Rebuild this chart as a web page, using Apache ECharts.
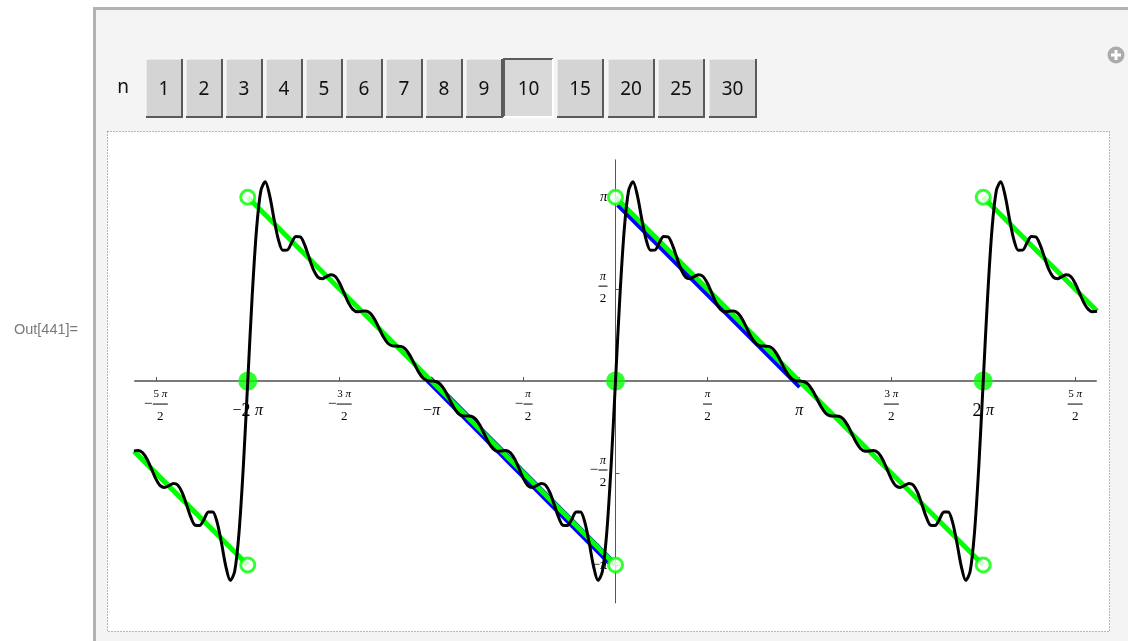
<!DOCTYPE html>
<html>
<head>
<meta charset="utf-8">
<script src="https://cdn.jsdelivr.net/npm/echarts@6/dist/echarts.min.js"></script>
<style>
html,body{margin:0;padding:0;background:#ffffff;}
#c{width:1128px;height:641px;}
</style>
</head>
<body>
<div id="c"></div>
<script>
// ---- Data ----
// Fourier partial sum, n = 10: [x, y]
const fourierCurve = [
[-8.2280,-1.193],[-8.1532,-1.185],[-8.0784,-1.225],[-8.0036,-1.336],[-7.9288,-1.502],[-7.8540,-1.671],[-7.7792,-1.786],[-7.7044,-1.818],[-7.6296,-1.786],[-7.5548,-1.749],
[-7.4800,-1.776],[-7.4052,-1.903],[-7.3304,-2.110],[-7.2556,-2.326],[-7.1808,-2.464],[-7.1060,-2.469],[-7.0312,-2.362],[-6.9564,-2.237],[-6.8816,-2.235],[-6.8068,-2.415],
[-6.7320,-2.767],[-6.6572,-3.169],[-6.5824,-3.405],[-6.5076,-3.255],[-6.4328,-2.592],[-6.3580,-1.442],[-6.2832,0],[-6.2084,1.442],[-6.1336,2.592],[-6.0588,3.255],
[-5.9840,3.405],[-5.9092,3.169],[-5.8344,2.767],[-5.7596,2.415],[-5.6848,2.235],[-5.6100,2.237],[-5.5352,2.362],[-5.4604,2.469],[-5.3856,2.464],[-5.3108,2.326],
[-5.2360,2.110],[-5.1612,1.903],[-5.0864,1.776],[-5.0116,1.749],[-4.9368,1.786],[-4.8620,1.818],[-4.7872,1.786],[-4.7124,1.671],[-4.6376,1.502],[-4.5628,1.336],
[-4.4880,1.225],[-4.4132,1.185],[-4.3384,1.193],[-4.2636,1.199],[-4.1888,1.157],[-4.1140,1.051],[-4.0392,0.900],[-3.9644,0.751],[-3.8896,0.646],[-3.8148,0.601],
[-3.7400,0.597],[-3.6652,0.592],[-3.5904,0.547],[-3.5156,0.443],[-3.4408,0.300],[-3.3660,0.157],[-3.2912,0.054],[-3.2164,0.007],[-3.1416,0],[-3.0668,-0.007],
[-2.9920,-0.054],[-2.9172,-0.157],[-2.8424,-0.300],[-2.7676,-0.443],[-2.6928,-0.547],[-2.6180,-0.592],[-2.5432,-0.597],[-2.4684,-0.601],[-2.3936,-0.646],[-2.3188,-0.751],
[-2.2440,-0.900],[-2.1692,-1.051],[-2.0944,-1.157],[-2.0196,-1.199],[-1.9448,-1.193],[-1.8700,-1.185],[-1.7952,-1.225],[-1.7204,-1.336],[-1.6456,-1.502],[-1.5708,-1.671],
[-1.4960,-1.786],[-1.4212,-1.818],[-1.3464,-1.786],[-1.2716,-1.749],[-1.1968,-1.776],[-1.1220,-1.903],[-1.0472,-2.110],[-0.9724,-2.326],[-0.8976,-2.464],[-0.8228,-2.469],
[-0.7480,-2.362],[-0.6732,-2.237],[-0.5984,-2.235],[-0.5236,-2.415],[-0.4488,-2.767],[-0.3740,-3.169],[-0.2992,-3.405],[-0.2244,-3.255],[-0.1496,-2.592],[-0.0748,-1.442],
[0,0],
[0.0748,1.442],[0.1496,2.592],[0.2244,3.255],[0.2992,3.405],[0.3740,3.169],[0.4488,2.767],[0.5236,2.415],[0.5984,2.235],[0.6732,2.237],[0.7480,2.362],
[0.8228,2.469],[0.8976,2.464],[0.9724,2.326],[1.0472,2.110],[1.1220,1.903],[1.1968,1.776],[1.2716,1.749],[1.3464,1.786],[1.4212,1.818],[1.4960,1.786],
[1.5708,1.671],[1.6456,1.502],[1.7204,1.336],[1.7952,1.225],[1.8700,1.185],[1.9448,1.193],[2.0196,1.199],[2.0944,1.157],[2.1692,1.051],[2.2440,0.900],
[2.3188,0.751],[2.3936,0.646],[2.4684,0.601],[2.5432,0.597],[2.6180,0.592],[2.6928,0.547],[2.7676,0.443],[2.8424,0.300],[2.9172,0.157],[2.9920,0.054],
[3.0668,0.007],[3.1416,0],[3.2164,-0.007],[3.2912,-0.054],[3.3660,-0.157],[3.4408,-0.300],[3.5156,-0.443],[3.5904,-0.547],[3.6652,-0.592],[3.7400,-0.597],
[3.8148,-0.601],[3.8896,-0.646],[3.9644,-0.751],[4.0392,-0.900],[4.1140,-1.051],[4.1888,-1.157],[4.2636,-1.199],[4.3384,-1.193],[4.4132,-1.185],[4.4880,-1.225],
[4.5628,-1.336],[4.6376,-1.502],[4.7124,-1.671],[4.7872,-1.786],[4.8620,-1.818],[4.9368,-1.786],[5.0116,-1.749],[5.0864,-1.776],[5.1612,-1.903],[5.2360,-2.110],
[5.3108,-2.326],[5.3856,-2.464],[5.4604,-2.469],[5.5352,-2.362],[5.6100,-2.237],[5.6848,-2.235],[5.7596,-2.415],[5.8344,-2.767],[5.9092,-3.169],[5.9840,-3.405],
[6.0588,-3.255],[6.1336,-2.592],[6.2084,-1.442],[6.2832,0],[6.3580,1.442],[6.4328,2.592],[6.5076,3.255],[6.5824,3.405],[6.6572,3.169],[6.7320,2.767],
[6.8068,2.415],[6.8816,2.235],[6.9564,2.237],[7.0312,2.362],[7.1060,2.469],[7.1808,2.464],[7.2556,2.326],[7.3304,2.110],[7.4052,1.903],[7.4800,1.776],
[7.5548,1.749],[7.6296,1.786],[7.7044,1.818],[7.7792,1.786],[7.8540,1.671],[7.9288,1.502],[8.0036,1.336],[8.0784,1.225],[8.1532,1.185],[8.2280,1.193]
];
// Sawtooth (green) segments
const sawSegments = [
  [[-8.228, -1.197], [-6.2832, -3.1416]],
  [[-6.2832, 3.1416], [0, -3.1416]],
  [[0, 3.1416], [6.2832, -3.1416]],
  [[6.2832, 3.1416], [8.228, 1.197]]
];
// Blue segments
const blueSegments = [
  [[-3.19, 0.03], [-0.09, -3.08]],
  [[0.06, 3.03], [3.17, -0.08]]
];
// Open end circles and filled jump-midpoint dots
const openEnds = [[-6.2832,-3.1416],[-6.2832,3.1416],[0,-3.1416],[0,3.1416],[6.2832,-3.1416],[6.2832,3.1416]];
const jumpDots = [[-6.2832,0],[0,0],[6.2832,0]];
// Ticks, in multiples of pi/2
const xTickSteps = [-5,-4,-3,-2,-1,1,2,3,4,5];
const xTickLabels = ['−5π/2','−2π','−3π/2','−π','−π/2','π/2','π','3π/2','2π','5π/2'];
const yTickSteps = [-2,-1,1,2];
const yTickLabels = ['−π','−π/2','π/2','π'];
// Control values
const nValues = ['1','2','3','4','5','6','7','8','9','10','15','20','25','30'];
const selectedN = '10';
const outLabel = 'Out[441]=';

// ---- Rendering ----
const HALF_PI = Math.PI / 2;
const xTickVals = xTickSteps.map(s => s * HALF_PI);
const yTickVals = yTickSteps.map(s => s * HALF_PI);
const SERIF = '"Liberation Serif", "Times New Roman", serif';

const X_MIN = -8.21, X_MAX = 8.21, Y_MIN = -3.79, Y_MAX = 3.78;
const GRID = {left: 135, top: 159.8, width: 961, height: 443.1};
// axes cross at the origin: shift each axis from its grid edge to the other axis' zero
const xAxisOffset = -((0 - Y_MIN) / (Y_MAX - Y_MIN)) * GRID.height;
const yAxisOffset = -((0 - X_MIN) / (X_MAX - X_MIN)) * GRID.width;

function buildLabel(lbl) {
  const neg = lbl.charAt(0) === '−';
  const body = neg ? lbl.slice(1) : lbl;
  const slash = body.indexOf('/');
  if (slash >= 0) {
    const num = body.slice(0, slash), den = body.slice(slash + 1);
    const coef = num.replace('π', '');
    const numTxt = (coef ? '{nd|' + coef + '\u00a0}' : '') + '{ni|π}';
    const sp = neg ? '{sp|\u00a0}' : '';
    return sp + numTxt + '\n' + (neg ? '{mi|−}' : '') + '{' + (coef ? 'barW' : 'barN') + '|\u00a0}\n' + sp + '{den|' + den + '}';
  }
  const coef = body.replace('π', '');
  return (neg ? '{bm|−}' : '') + (coef ? '{bc|' + coef + '\u00a0}' : '') + '{bp|π}';
}
function lookup(vals, labels, v) {
  for (let i = 0; i < vals.length; i++) if (Math.abs(vals[i] - v) < 1e-6) return buildLabel(labels[i]);
  return '';
}
function richSet(o) {
  const r = {};
  for (const k in o) r[k] = Object.assign({fontFamily: SERIF, color: '#000', align: 'center'}, o[k]);
  return r;
}
const xRich = richSet({
  sp: {width: 9, fontSize: 12, lineHeight: 1},
  nd: {fontSize: 11, lineHeight: 12},
  ni: {fontSize: 11, lineHeight: 12, fontStyle: 'italic'},
  mi: {fontSize: 15, width: 9, lineHeight: 8},
  barW: {width: 15, height: 1, lineHeight: 8, backgroundColor: '#000'},
  barN: {width: 9, height: 1, lineHeight: 8, backgroundColor: '#000'},
  den: {fontSize: 13, lineHeight: 18},
  bm: {fontSize: 16, lineHeight: 46},
  bc: {fontSize: 18, lineHeight: 46},
  bp: {fontSize: 16, lineHeight: 46, fontStyle: 'italic'}
});
const yRich = richSet({
  sp: {width: 9, fontSize: 12, lineHeight: 1},
  nd: {fontSize: 12, lineHeight: 13},
  ni: {fontSize: 12, lineHeight: 13, fontStyle: 'italic'},
  mi: {fontSize: 15, width: 9, lineHeight: 6},
  barW: {width: 15, height: 1, lineHeight: 6, backgroundColor: '#000'},
  barN: {width: 9, height: 1, lineHeight: 6, backgroundColor: '#000'},
  den: {fontSize: 13, lineHeight: 19},
  bm: {fontSize: 15, lineHeight: 16},
  bc: {fontSize: 15, lineHeight: 16},
  bp: {fontSize: 15, lineHeight: 16, fontStyle: 'italic'}
});

const GREEN = '#00ff00';
const series = [];
series.push({
  type: 'line', data: fourierCurve, showSymbol: false, symbol: 'none',
  smooth: 0.3, lineStyle: {color: '#000', width: 3}, z: 6, animation: false, silent: true
});
sawSegments.forEach(seg => series.push({
  type: 'line', data: seg, symbol: 'none', lineStyle: {color: GREEN, width: 5}, z: 4, animation: false, silent: true
}));
blueSegments.forEach(seg => series.push({
  type: 'line', data: seg, symbol: 'none', lineStyle: {color: '#0000ff', width: 8, cap: 'butt'}, z: 3, animation: false, silent: true
}));
series.push({
  type: 'scatter', data: openEnds, symbol: 'circle', symbolSize: 14,
  itemStyle: {color: '#ffffff', borderColor: GREEN, borderWidth: 3}, z: 5, animation: false, silent: true
});
series.push({
  type: 'scatter', data: jumpDots, symbol: 'circle', symbolSize: 19,
  itemStyle: {color: GREEN}, z: 5, animation: false, silent: true
});

// Manipulate panel graphics
const graphics = [];
graphics.push({type: 'rect', z: -20, silent: true, shape: {x: 94.5, y: 8.5, width: 1060, height: 660},
  style: {fill: '#f4f4f4', stroke: '#b2b2b2', lineWidth: 3}});
graphics.push({type: 'rect', z: -15, silent: true, shape: {x: 107.5, y: 131.5, width: 1002, height: 500},
  style: {fill: '#ffffff', stroke: '#777', lineWidth: 1, lineDash: [1, 2]}});
graphics.push({type: 'text', z: 1, silent: true, style: {text: outLabel, x: 78, y: 330,
  font: '14.5px "Liberation Sans", Arial, sans-serif', fill: '#7a7a7a', align: 'right', textAlign: 'right', verticalAlign: 'middle', textVerticalAlign: 'middle'}});
graphics.push({type: 'text', z: 1, silent: true, style: {text: 'n', x: 123, y: 88,
  font: '19px "Noto Sans", "Open Sans", sans-serif', fill: '#111', align: 'center', textAlign: 'center', verticalAlign: 'middle', textVerticalAlign: 'middle'}});
const btnLeft = [146,186,226,266,306,346,386,426,466,504,557,608,658,709];
const btnWidth = [36,36,36,36,36,36,36,36,36,49,46,46,46,47];
const bTop = 59, bBot = 117;
nValues.forEach((lab, i) => {
  const L = btnLeft[i], W = btnWidth[i], R = L + W;
  const sel = lab === selectedN;
  graphics.push({type: 'rect', z: 1, silent: true, shape: {x: L, y: bTop, width: W, height: bBot - bTop},
    style: {fill: sel ? '#d9d9d9' : '#d4d4d4'}});
  graphics.push({type: 'polyline', z: 2, silent: true, shape: {points: [[L, bBot], [L, bTop], [R, bTop]]},
    style: {stroke: sel ? '#5c5c5c' : '#fbfbfb', lineWidth: sel ? 2 : 1, fill: null}});
  graphics.push({type: 'polyline', z: 2, silent: true, shape: {points: [[R, bTop], [R, bBot], [L, bBot]]},
    style: {stroke: sel ? '#ffffff' : '#5a5a5a', lineWidth: 2, fill: null}});
  graphics.push({type: 'text', z: 3, silent: true, style: {text: lab, x: L + W / 2, y: 90,
    font: '19px "Noto Sans", "Open Sans", sans-serif', fill: '#111', align: 'center', textAlign: 'center', verticalAlign: 'middle', textVerticalAlign: 'middle'}});
});
// plus icon
graphics.push({type: 'circle', z: 1, silent: true, shape: {cx: 1116, cy: 55, r: 8.5}, style: {fill: '#ababab'}});
graphics.push({type: 'rect', z: 2, silent: true, shape: {x: 1111, y: 53.5, width: 10, height: 3}, style: {fill: '#ffffff'}});
graphics.push({type: 'rect', z: 2, silent: true, shape: {x: 1114.5, y: 50, width: 3, height: 10}, style: {fill: '#ffffff'}});

const option = {
  animation: false,
  backgroundColor: '#ffffff',
  graphic: {elements: graphics},
  grid: Object.assign({containLabel: false, outerBoundsMode: 'none'}, GRID),
  xAxis: {
    type: 'value', min: X_MIN, max: X_MAX, position: 'bottom', offset: xAxisOffset,
    axisLine: {onZero: false, lineStyle: {color: '#7a7a7a', width: 2}},
    axisTick: {show: true, inside: true, length: 4, customValues: xTickVals, lineStyle: {color: '#555', width: 1}},
    axisLabel: {show: true, customValues: xTickVals, margin: 7, color: '#000',
      formatter: v => lookup(xTickVals, xTickLabels, v), rich: xRich},
    splitLine: {show: false}, minorTick: {show: false}
  },
  yAxis: {
    type: 'value', min: Y_MIN, max: Y_MAX, position: 'left', offset: yAxisOffset,
    axisLine: {onZero: false, lineStyle: {color: '#555', width: 1}},
    axisTick: {show: true, inside: true, length: 4, customValues: yTickVals, lineStyle: {color: '#555', width: 1}},
    axisLabel: {show: true, customValues: yTickVals, margin: 8, color: '#000',
      formatter: v => lookup(yTickVals, yTickLabels, v), rich: yRich},
    splitLine: {show: false}
  },
  series: series
};
const chart = echarts.init(document.getElementById('c'));
chart.setOption(option);
</script>
</body>
</html>
